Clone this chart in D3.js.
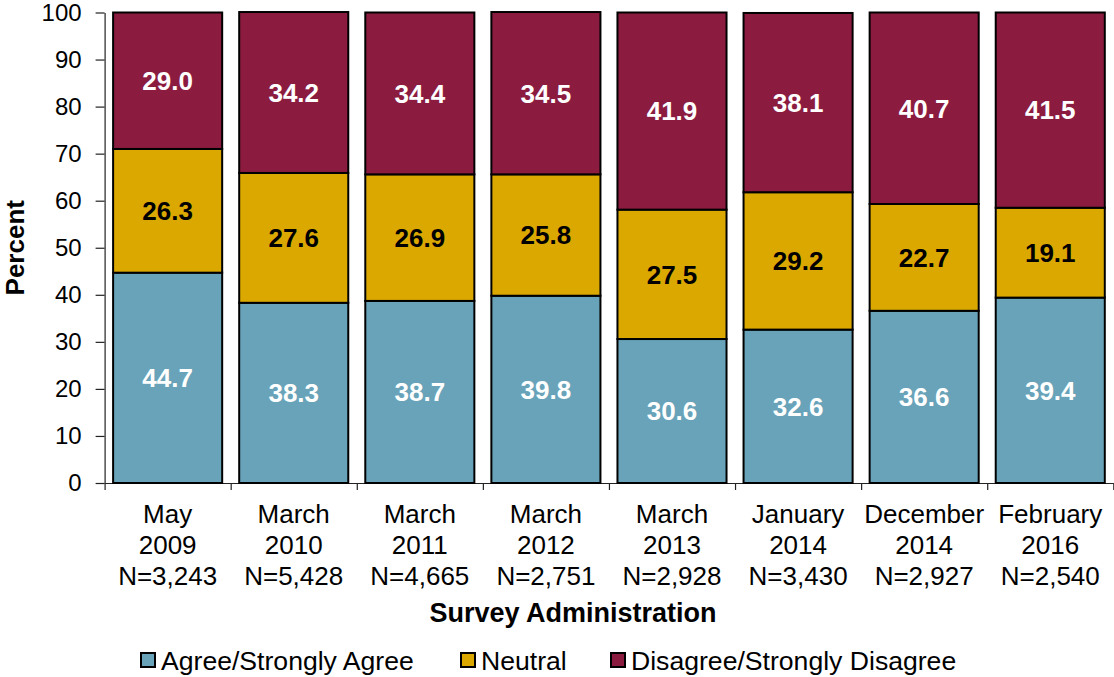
<!DOCTYPE html>
<html>
<head>
<meta charset="utf-8">
<script src="https://cdn.jsdelivr.net/npm/d3@7/dist/d3.min.js"></script>
<style>
  html, body { margin: 0; padding: 0; background: #fff; }
  svg { display: block; font-family: "Liberation Sans", Arial, sans-serif; }
</style>
</head>
<body>
<script>
// Survey administrations (3 label lines each)
const months = ['May', 'March', 'March', 'March', 'March', 'January', 'December', 'February'];
const years = ['2009', '2010', '2011', '2012', '2013', '2014', '2014', '2016'];
const sampleSizes = ['N=3,243', 'N=5,428', 'N=4,665', 'N=2,751', 'N=2,928', 'N=3,430', 'N=2,927', 'N=2,540'];

// Percent per response group
const agree = [44.7, 38.3, 38.7, 39.8, 30.6, 32.6, 36.6, 39.4];
const neutral = [26.3, 27.6, 26.9, 25.8, 27.5, 29.2, 22.7, 19.1];
const disagree = [29.0, 34.2, 34.4, 34.5, 41.9, 38.1, 40.7, 41.5];

const seriesNames = ['Agree/Strongly Agree', 'Neutral', 'Disagree/Strongly Disagree'];
const yTicks = [0, 10, 20, 30, 40, 50, 60, 70, 80, 90, 100];

(function () {
  const W = 1114, H = 677;
  const colors = { agree: '#68a3b9', neutral: '#dba800', disagree: '#8b1c40' };
  const labelColors = { agree: '#ffffff', neutral: '#000000', disagree: '#ffffff' };
  const keys = ['agree', 'neutral', 'disagree'];

  const rows = months.map((m, i) => ({
    idx: i,
    agree: agree[i],
    neutral: neutral[i],
    disagree: disagree[i],
  }));

  const svg = d3.select('body').append('svg')
    .attr('width', W)
    .attr('height', H);

  const x0 = 104.6, x1 = 1113.3;
  const x = d3.scaleBand()
    .domain(rows.map(d => d.idx))
    .range([x0, x1])
    .paddingInner(0.135)
    .paddingOuter(0.0675);
  const xEdges = d3.scaleLinear().domain([0, months.length]).range([x0, x1]);
  const y = d3.scaleLinear().domain([0, 100]).range([483, 12.5]);

  // y axis
  const yAxis = svg.append('g')
    .attr('transform', `translate(${x0},0)`)
    .call(d3.axisLeft(y).tickValues(yTicks).tickSize(9).tickPadding(14).tickSizeOuter(0));
  yAxis.select('.domain').attr('stroke', '#222').attr('stroke-width', 1.2);
  yAxis.selectAll('.tick line').attr('stroke', '#222').attr('stroke-width', 1.2);
  yAxis.selectAll('.tick text')
    .attr('font-size', 24)
    .attr('font-family', '"Liberation Sans", Arial, sans-serif')
    .attr('fill', '#000');

  // x axis (tick marks on category boundaries)
  const xAxis = svg.append('g')
    .attr('transform', `translate(0,${y(0)})`)
    .call(d3.axisBottom(xEdges).tickValues(d3.range(months.length + 1)).tickSize(7).tickFormat('').tickSizeOuter(0));
  xAxis.select('.domain').attr('stroke', '#222').attr('stroke-width', 1.2);
  xAxis.selectAll('.tick line').attr('stroke', '#222').attr('stroke-width', 1.2);

  // stacked bars
  const stack = d3.stack().keys(keys);
  const layers = stack(rows);

  const layer = svg.append('g').selectAll('g')
    .data(layers)
    .join('g')
    .attr('fill', d => colors[d.key]);

  layer.selectAll('rect')
    .data(d => d)
    .join('rect')
    .attr('x', d => x(d.data.idx))
    .attr('width', x.bandwidth())
    .attr('y', d => y(d[1]))
    .attr('height', d => y(d[0]) - y(d[1]))
    .attr('stroke', '#000')
    .attr('stroke-width', 2);

  // value labels
  const labels = svg.append('g');
  layers.forEach(l => {
    labels.selectAll(null)
      .data(l)
      .join('text')
      .attr('x', d => x(d.data.idx) + x.bandwidth() / 2)
      .attr('y', d => y((d[0] + d[1]) / 2))
      .attr('dy', '0.36em')
      .attr('text-anchor', 'middle')
      .attr('font-size', 26)
      .attr('font-weight', 'bold')
      .attr('fill', labelColors[l.key])
      .text(d => d.data[l.key].toFixed(1));
  });

  // category labels
  const catText = svg.append('g').selectAll('text')
    .data(rows)
    .join('text')
    .attr('x', d => x(d.idx) + x.bandwidth() / 2)
    .attr('y', 523)
    .attr('text-anchor', 'middle')
    .attr('font-size', 26)
    .attr('fill', '#000');
  catText.append('tspan').attr('x', d => x(d.idx) + x.bandwidth() / 2).attr('dy', 0).text(d => months[d.idx]);
  catText.append('tspan').attr('x', d => x(d.idx) + x.bandwidth() / 2).attr('dy', 31).text(d => years[d.idx]);
  catText.append('tspan').attr('x', d => x(d.idx) + x.bandwidth() / 2).attr('dy', 31).text(d => sampleSizes[d.idx]);

  // axis titles
  svg.append('text')
    .attr('x', 573)
    .attr('y', 622)
    .attr('text-anchor', 'middle')
    .attr('font-size', 27)
    .attr('font-weight', 'bold')
    .text('Survey Administration');

  svg.append('text')
    .attr('transform', `translate(24,${(y(0) + y(100)) / 2}) rotate(-90)`)
    .attr('text-anchor', 'middle')
    .attr('font-size', 26)
    .attr('font-weight', 'bold')
    .text('Percent');

  // legend
  const legendX = [141, 461, 611];
  const legend = svg.append('g').selectAll('g')
    .data(keys)
    .join('g')
    .attr('transform', (d, i) => `translate(${legendX[i]},653)`);
  legend.append('rect')
    .attr('width', 14)
    .attr('height', 14)
    .attr('fill', d => colors[d])
    .attr('stroke', '#000')
    .attr('stroke-width', 2);
  legend.append('text')
    .attr('x', 20)
    .attr('y', 7)
    .attr('dy', '0.36em')
    .attr('font-size', 26.6)
    .text((d, i) => seriesNames[i]);
})();
</script>
</body>
</html>
